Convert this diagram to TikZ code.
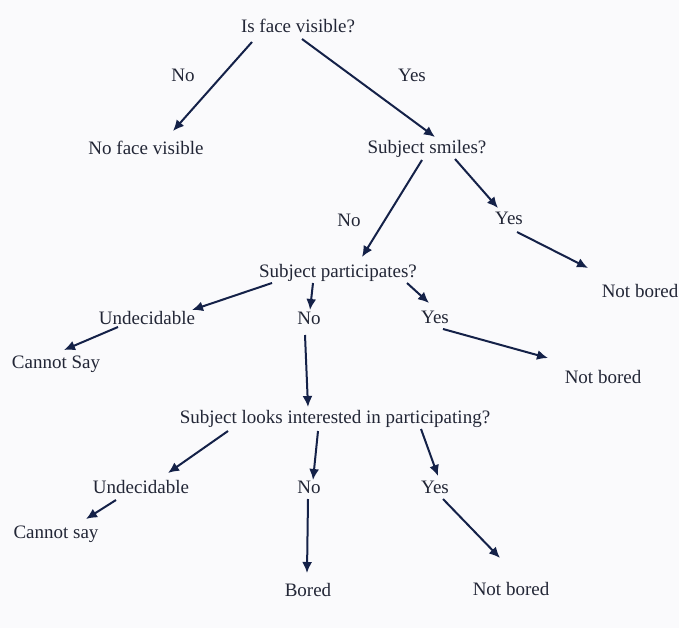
\documentclass[tikz,border=0pt]{standalone}
\usepackage{fontspec}
\setmainfont{Liberation Serif}
\usetikzlibrary{arrows.meta,calc}
\definecolor{arrowblue}{RGB}{20,33,72}
\definecolor{labeltext}{RGB}{34,38,54}
\definecolor{paper}{RGB}{250,250,252}

\begin{document}
\begin{tikzpicture}[x=1pt,y=-1pt,
    lbl/.style={anchor=base,inner sep=0pt,text=labeltext,font=\fontsize{19}{22}\selectfont},
    arr/.style={-{Latex[length=11pt,width=10pt]},line width=2pt,draw=arrowblue}]
\fill[paper] (0,0) rectangle (679,628);
\useasboundingbox (0,0) rectangle (679,628);

% Is face visible?
\node[lbl] (root) at (298,33) {Is face visible?};
\node[lbl] (noA) at (183,82) {No};
\node[lbl] (yesA) at (412,82) {Yes};
\node[lbl] (noface) at (146,155) {No face visible};

% Subject smiles?
\node[lbl] (smiles) at (427,154) {Subject smiles?};
\node[lbl] (noB) at (349,226) {No};
\node[lbl] (yesB) at (509,225) {Yes};
\node[lbl] (notboredB) at (640,297) {Not bored};

% Subject participates?
\node[lbl] (part) at (338,277) {Subject participates?};
\node[lbl] (undecC) at (147,324) {Undecidable};
\node[lbl] (cannotC) at (56,368) {Cannot Say};
\node[lbl] (noC) at (309,324) {No};
\node[lbl] (yesC) at (435,323) {Yes};
\node[lbl] (notboredC) at (603,383) {Not bored};

% Subject looks interested?
\node[lbl] (interest) at (335,423) {Subject looks interested in participating?};
\node[lbl] (undecD) at (141,493) {Undecidable};
\node[lbl] (cannotD) at (56,538) {Cannot say};
\node[lbl] (noD) at (309,493) {No};
\node[lbl] (yesD) at (435,493) {Yes};
\node[lbl] (boredD) at (308,596) {Bored};
\node[lbl] (notboredD) at (511,595) {Not bored};

% arrows: from node (offset from its base) to node (offset from its base)
\foreach \a/\ax/\ay/\b/\bx/\by in {
    root/-46/9/noface/27/-24,
    root/4/6/smiles/8/-17,
    smiles/-5/6/part/24/-20,
    smiles/28/5/yesB/-11/-17,
    yesB/8/7/notboredB/-52/-29,
    part/-66/6/undecC/45/-14,
    undecC/-29/3/cannotC/8/-18,
    part/-25/6/noC/1/-14,
    part/69/6/yesC/-6/-20,
    yesC/8/6/notboredC/-55/-25,
    noC/-4/11/interest/-27/-16,
    interest/-107/8/undecD/27/-20,
    undecD/-25/7/cannotD/30/-19,
    interest/-17/8/noD/4/-13,
    interest/86/6/yesD/3/-17,
    yesD/8/6/notboredD/-11/-37,
    noD/-1/6/boredD/-1/-23} {
    \draw[arr] ($(\a.base)+(\ax,\ay)$) -- ($(\b.base)+(\bx,\by)$);
}
\end{tikzpicture}
\end{document}
